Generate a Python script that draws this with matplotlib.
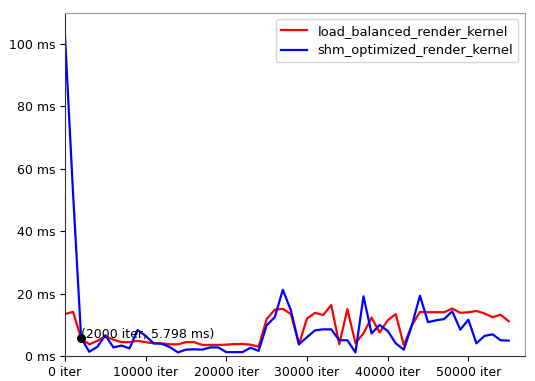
import matplotlib
matplotlib.use("Agg")
import matplotlib.pyplot as plt
from matplotlib.ticker import FuncFormatter, MultipleLocator

iters = [i * 1000 for i in range(56)]

load_balanced = [13.4, 14.1, 5.6, 3.7, 4.8, 6.3, 5.2, 4.4, 4.4, 4.8,
                 4.4, 4.0, 4.0, 3.7, 3.7, 4.4, 4.4, 3.5, 3.5, 3.5,
                 3.6, 3.8, 3.8, 3.6, 2.9, 11.8, 14.8, 15.1, 13.4, 3.7,
                 12.0, 13.8, 13.1, 16.3, 3.7, 15.0, 4.1, 7.2, 12.3, 7.5,
                 11.4, 13.4, 3.4, 9.8, 14.1, 14.0, 14.0, 14.0, 15.2, 13.8,
                 14.0, 14.4, 13.6, 12.4, 13.2, 11.1]

shm_optimized = [102.5, 52.0, 5.798, 1.3, 2.9, 6.6, 2.7, 3.3, 2.4, 8.3,
                 6.4, 4.0, 3.9, 2.8, 1.1, 2.0, 2.1, 2.0, 2.7, 2.7,
                 1.2, 1.2, 1.2, 2.6, 1.6, 9.8, 12.4, 21.2, 14.6, 3.7,
                 6.0, 8.2, 8.5, 8.5, 5.0, 5.0, 1.1, 19.1, 7.2, 9.9,
                 8.0, 4.0, 2.0, 9.8, 19.3, 10.8, 11.4, 11.8, 14.3, 8.4,
                 11.6, 4.0, 6.4, 6.9, 5.0, 4.9]

ann_x, ann_y = 2000, 5.798

fig = plt.figure(figsize=(5.35, 3.81), dpi=100)
ax = fig.add_axes([0.1215, 0.066, 0.8595, 0.9])

ax.plot(iters, load_balanced, color="red", lw=1.6, label="load_balanced_render_kernel")
ax.plot(iters, shm_optimized, color="blue", lw=1.6, label="shm_optimized_render_kernel")
ax.plot([ann_x], [ann_y], "o", color="black", markersize=5.5)
ax.text(ann_x, ann_y, f"({ann_x} iter, {ann_y} ms)", fontsize=9, ha="left", va="baseline")

ax.set_xlim(0, 57000)
ax.set_ylim(0, 110)
ax.xaxis.set_major_locator(MultipleLocator(10000))
ax.yaxis.set_major_locator(MultipleLocator(20))
ax.xaxis.set_major_formatter(FuncFormatter(lambda v, p: f"{int(v)} iter"))
ax.yaxis.set_major_formatter(FuncFormatter(lambda v, p: f"{int(v)} ms"))
ax.tick_params(labelsize=9)

for s in ["top", "right"]:
    ax.spines[s].set_color("#999999")
for s in ["left", "bottom"]:
    ax.spines[s].set_color("#333333")

ax.legend(loc="upper right", fontsize=9.4)

fig.savefig("out.png", dpi=100)
